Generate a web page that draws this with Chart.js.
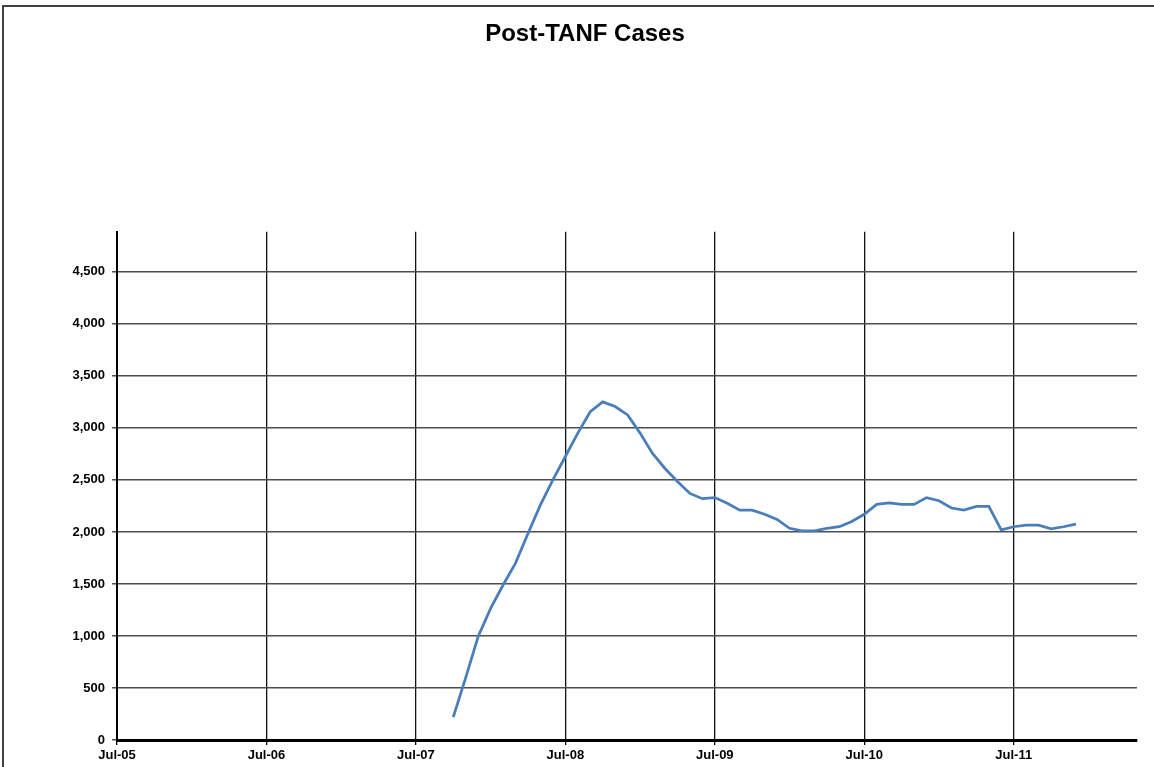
<!DOCTYPE html>
<html>
<head>
<meta charset="utf-8">
<script src="https://cdn.jsdelivr.net/npm/chart.js@4"></script>
<style>
  body { margin: 0; background: #fff; }
  canvas { display: block; }
</style>
</head>
<body>
<canvas id="myChart" width="1154" height="767"></canvas>
<script>
// monthly Post-TANF cases
const months = [
    'Oct-07', 'Nov-07', 'Dec-07', 'Jan-08', 'Feb-08', 'Mar-08', 'Apr-08', 'May-08', 'Jun-08',
    'Jul-08', 'Aug-08', 'Sep-08', 'Oct-08', 'Nov-08', 'Dec-08', 'Jan-09', 'Feb-09', 'Mar-09',
    'Apr-09', 'May-09', 'Jun-09', 'Jul-09', 'Aug-09', 'Sep-09', 'Oct-09', 'Nov-09', 'Dec-09',
    'Jan-10', 'Feb-10', 'Mar-10', 'Apr-10', 'May-10', 'Jun-10', 'Jul-10', 'Aug-10', 'Sep-10',
    'Oct-10', 'Nov-10', 'Dec-10', 'Jan-11', 'Feb-11', 'Mar-11', 'Apr-11', 'May-11', 'Jun-11',
    'Jul-11', 'Aug-11', 'Sep-11', 'Oct-11', 'Nov-11', 'Dec-11'
];
const cases = [
    220, 600, 995, 1265, 1490, 1700, 1985, 2260, 2500,
    2725, 2950, 3155, 3250, 3205, 3125, 2950, 2755, 2610,
    2485, 2370, 2320, 2330, 2275, 2210, 2210, 2170, 2120,
    2035, 2010, 2010, 2035, 2050, 2100, 2170, 2265, 2280,
    2265, 2265, 2330, 2300, 2230, 2210, 2245, 2245, 2020,
    2050, 2065, 2065, 2030, 2050, 2075
];
const xTickLabels = ['Jul-05', 'Jul-06', 'Jul-07', 'Jul-08', 'Jul-09', 'Jul-10', 'Jul-11'];
const yTicks = [0, 500, 1000, 1500, 2000, 2500, 3000, 3500, 4000, 4500];

const monNames = ['Jan', 'Feb', 'Mar', 'Apr', 'May', 'Jun', 'Jul', 'Aug', 'Sep', 'Oct', 'Nov', 'Dec'];

// months since Jul-05
function monthIndex(lbl) {
    let parts = lbl.split('-');
    let m = monNames.indexOf(parts[0]);
    let yr = 2000 + parseInt(parts[1], 10);
    return (yr - 2005) * 12 + m - 6;
}

let points = [];
for (let i = 0; i < months.length; i++) {
    points.push({ x: monthIndex(months[i]), y: cases[i] });
}

const tickFont = { family: "'Liberation Sans', Arial, sans-serif", size: 13, weight: 'bold' };

const frame = {
    id: 'frame',
    beforeDraw(chart) {
        const ctx = chart.ctx;
        ctx.save();
        ctx.fillStyle = '#fff';
        ctx.fillRect(0, 0, chart.width, chart.height);
        ctx.strokeStyle = '#404040';
        ctx.lineWidth = 2;
        ctx.beginPath();
        ctx.moveTo(3, chart.height);
        ctx.lineTo(3, 6);
        ctx.lineTo(chart.width, 6);
        ctx.stroke();
        ctx.restore();
    }
};

const config = {
    type: 'line',
    data: {
        datasets: [{
            label: 'Post-TANF Cases',
            data: points,
            borderColor: '#4a7ebb',
            borderWidth: 2.75,
            pointRadius: 0,
            tension: 0,
            fill: false
        }]
    },
    options: {
        responsive: false,
        animation: false,
        layout: { padding: { left: 33, right: 17, top: 0, bottom: 0 } },
        plugins: {
            legend: { display: false },
            tooltip: { enabled: false },
            title: {
                display: true,
                text: 'Post-TANF Cases',
                color: '#000',
                font: { family: "'Liberation Sans', Arial, sans-serif", size: 24, weight: 'bold', lineHeight: 1.2 },
                padding: { top: 20, bottom: 183 }
            }
        },
        scales: {
            x: {
                type: 'linear',
                min: 0,
                max: 81.9,
                afterBuildTicks: function (scale) {
                    scale.ticks = xTickLabels.map((l, i) => ({ value: i * 12 }));
                },
                afterFit: function (scale) { scale.height = 27; },
                ticks: {
                    autoSkip: false,
                    maxRotation: 0,
                    padding: 3,
                    color: '#000',
                    font: tickFont,
                    callback: function (v) { return xTickLabels[Math.round(v / 12)]; }
                },
                grid: { color: '#111', lineWidth: 1.3, tickLength: 5, tickColor: '#000' },
                border: { color: '#000', width: 3 }
            },
            y: {
                min: 0,
                max: 4885,
                afterBuildTicks: function (scale) {
                    scale.ticks = yTicks.map(v => ({ value: v }));
                },
                afterFit: function (scale) { scale.width = 84; },
                ticks: {
                    autoSkip: false,
                    padding: 7,
                    color: '#000',
                    font: tickFont,
                    callback: function (v) { return v.toLocaleString('en-US'); }
                },
                grid: { color: '#4d4d4d', lineWidth: 1.5, tickLength: 5, tickColor: '#4d4d4d' },
                border: { color: '#000', width: 2 }
            }
        }
    },
    plugins: [frame]
};

const myChart = new Chart(document.getElementById('myChart'), config);
</script>
</body>
</html>
